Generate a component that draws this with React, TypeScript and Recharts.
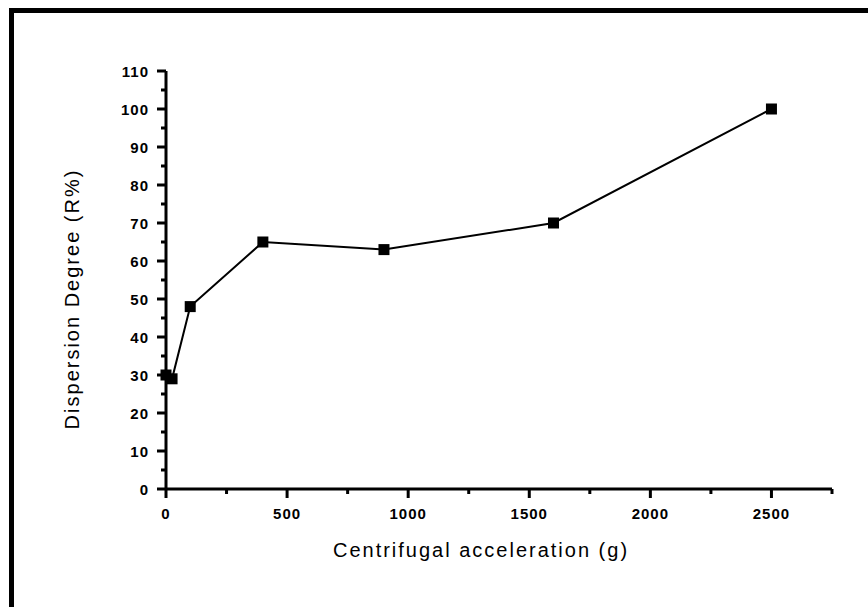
import React from 'react';
import { LineChart, Line, XAxis, YAxis } from 'recharts';

// values
const accel = [0, 25, 100, 400, 900, 1600, 2500];
const dispersion = [30, 29, 48, 65, 63, 70, 100];

const xTicks = [0, 250, 500, 750, 1000, 1250, 1500, 1750, 2000, 2250, 2500, 2750];
const yTicks = [0, 5, 10, 15, 20, 25, 30, 35, 40, 45, 50, 55, 60, 65, 70, 75, 80, 85, 90, 95, 100, 105, 110];

const data = accel.map((a, i) => ({ accel: a, dispersion: dispersion[i] }));

const FONT = '"Liberation Sans", Arial, sans-serif';

const XTick = ({ x, y, payload }: any) => {
  const major = payload.value % 500 === 0;
  return (
    <g>
      <line x1={x} x2={x} y1={y} y2={y + (major ? 9 : 5)} stroke="#000" strokeWidth={3} />
      {major && (
        <text x={x} y={y + 24} textAnchor="middle" dominantBaseline="central"
          fontFamily={FONT} fontWeight="bold" fontSize={15} letterSpacing={1} fill="#000">
          {payload.value}
        </text>
      )}
    </g>
  );
};

const YTick = ({ x, y, payload }: any) => {
  const major = payload.value % 10 === 0;
  return (
    <g>
      <line x1={x} x2={x - (major ? 9 : 5)} y1={y} y2={y} stroke="#000" strokeWidth={3} />
      {major && (
        <text x={x - 17} y={y} textAnchor="end" dominantBaseline="central"
          fontFamily={FONT} fontWeight="bold" fontSize={15} letterSpacing={1} fill="#000">
          {payload.value}
        </text>
      )}
    </g>
  );
};

const SquareDot = (props: any) => {
  const { cx, cy, index } = props;
  return <rect key={index} x={cx - 5.5} y={cy - 5.5} width={11} height={11} fill="#000" />;
};

export default function App() {
  return (
    <div style={{ position: 'absolute', left: 0, top: 0, width: 868, height: 607, background: '#fff', overflow: 'hidden' }}>
      <div style={{
        position: 'absolute', left: 9, top: 8, width: 859, height: 599,
        borderLeft: '5px solid #000', borderTop: '5px solid #000', boxSizing: 'border-box',
      }} />
      <LineChart
        width={868}
        height={607}
        data={data}
        margin={{ top: 71, right: 36, bottom: 0, left: 0 }}
        style={{ position: 'absolute', left: 0, top: 0 }}
      >
        <XAxis
          dataKey="accel"
          type="number"
          domain={[0, 2750]}
          ticks={xTicks}
          interval={0}
          tickSize={0}
          tickMargin={0}
          tickLine={false}
          tick={<XTick />}
          axisLine={{ stroke: '#000', strokeWidth: 3 }}
          height={118}
        />
        <YAxis
          type="number"
          domain={[0, 110]}
          ticks={yTicks}
          interval={0}
          tickSize={0}
          tickMargin={0}
          tickLine={false}
          tick={<YTick />}
          axisLine={{ stroke: '#000', strokeWidth: 3 }}
          width={166}
        />
        <Line
          dataKey="dispersion"
          type="linear"
          stroke="#000"
          strokeWidth={2}
          dot={SquareDot}
          activeDot={false}
          isAnimationActive={false}
        />
      </LineChart>
      <div style={{
        position: 'absolute', left: 281, top: 539, width: 400, textAlign: 'center',
        fontFamily: FONT, fontSize: 20, letterSpacing: 2, color: '#000', whiteSpace: 'nowrap',
      }}>
        Centrifugal acceleration (g)
      </div>
      <div style={{
        position: 'absolute', left: 72, top: 299, transform: 'translate(-50%, -50%) rotate(-90deg)',
        fontFamily: FONT, fontSize: 20, letterSpacing: 2, color: '#000', whiteSpace: 'nowrap',
      }}>
        Dispersion Degree (R%)
      </div>
    </div>
  );
}
